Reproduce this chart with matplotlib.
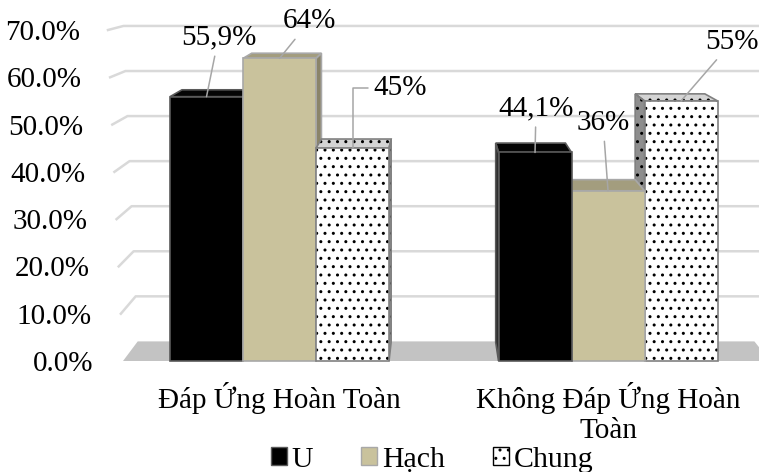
import matplotlib.pyplot as plt
from matplotlib.patches import Polygon, Patch

plt.rcParams['font.family'] = ['Liberation Serif', 'DejaVu Serif']

categories = ['Đáp Ứng Hoàn Toàn', 'Không Đáp Ứng Hoàn\nToàn']
series = ['U', 'Hạch', 'Chung']
u_vals = [55.9, 44.1]
hach_vals = [64, 36]
chung_vals = [45, 55]
y_ticks = [0, 10, 20, 30, 40, 50, 60, 70]

# label offsets in pixels from the top of each bar (per series, per group)
label_offsets = {
    'U': [(12, 59), (1, 44)],
    'Hạch': [(30, 37), (-5, 68)],
    'Chung': [(48, 60), (51, 59)],
}

styles = {
    'U': dict(front='#000000', top='#050505', side='#1c1c1c', edge='#5a5a5a', hatch=None),
    'Hạch': dict(front='#c9c29c', top='#a39d7e', side='#8a8469', edge='#a8a8a8', hatch=None),
    'Chung': dict(front='#ffffff', top='#d4d4d4', side='#8e8e8e', edge='#808080', hatch='..'),
}

values = {'U': u_vals, 'Hạch': hach_vals, 'Chung': chung_vals}

group_x = [0, 4.5]
offsets = [-1, 0, 1]
width = 1.0
fs = 21

# simple perspective: vanishing point and depth factors
vp_x, vp_y = 2.144, 88.2
s_bar, s_wall = 0.955, 0.953


def proj(x, y, s):
    return (vp_x + s * (x - vp_x), vp_y + s * (y - vp_y))


fig = plt.figure(figsize=(7.59, 4.72), dpi=100)
ax = fig.add_axes([123 / 759, 111 / 472, 636 / 759, 331 / 472])
ax.set_xlim(-2.144, 6.568)
ax.set_ylim(0, 70)
ax.patch.set_visible(False)
for sp in ax.spines.values():
    sp.set_visible(False)

# floor
fl, fr = -2.144, 6.72
floor = Polygon([(fl, 0), (fr, 0), proj(fr, 0, s_wall), proj(fl, 0, s_wall)],
                closed=True, facecolor='#c3c3c3', edgecolor='none', zorder=1, clip_on=False)
ax.add_patch(floor)

# gridlines: left wall + back wall
lean = 15 / 73 / 70
for v in y_ticks[1:]:
    xf = fl - lean * v
    bx, by = proj(xf, v, s_wall)
    ax.plot([xf, bx, 6.65], [v, by, by], color='#d9d9d9', lw=1.8,
            solid_joinstyle='round', zorder=2, clip_on=False)

# bars in drawing order
bars = []
for si, name in enumerate(series):
    for gi, gx in enumerate(group_x):
        xc = gx + offsets[si]
        bars.append((xc, name, gi))
left = sorted([b for b in bars if b[0] < vp_x], key=lambda b: b[0])
right = sorted([b for b in bars if b[0] >= vp_x], key=lambda b: -b[0])

z = 3
for xc, name, gi in left + right:
    st = styles[name]
    v = values[name][gi]
    x0, x1 = xc - width / 2, xc + width / 2
    xs = x1 if xc < vp_x else x0
    side = [(xs, 0), (xs, v), proj(xs, v, s_bar), proj(xs, 0, s_bar)]
    top = [(x0, v), (x1, v), proj(x1, v, s_bar), proj(x0, v, s_bar)]
    hc = '#000000' if st['hatch'] else st['edge']
    for pts, fc in ((side, st['side']), (top, st['top'])):
        ax.add_patch(Polygon(pts, closed=True, facecolor=fc, edgecolor=hc, lw=0,
                             hatch=st['hatch'], zorder=z, clip_on=False))
        ax.add_patch(Polygon(pts, closed=True, facecolor='none', edgecolor=st['edge'],
                             lw=1.2, zorder=z + 0.1, clip_on=False))
    ax.bar(xc, v, width=width, color=st['front'], edgecolor=hc, lw=0,
           hatch=st['hatch'], zorder=z + 0.2, clip_on=False)
    ax.bar(xc, v, width=width, color='none', edgecolor=st['edge'], lw=1.2,
           zorder=z + 0.3, clip_on=False)
    z += 1

# data labels
for si, name in enumerate(series):
    for gi, gx in enumerate(group_x):
        xc = gx + offsets[si]
        v = values[name][gi]
        txt = f'{v:g}%'.replace('.', ',')
        dx, dy = label_offsets[name][gi]
        conn = 'angle,angleA=0,angleB=90,rad=0' if (name == 'Chung' and gi == 0) else 'arc3'
        ax.annotate(txt, xy=(xc, v), xytext=(dx, dy), textcoords='offset pixels',
                    ha='center', va='center', fontsize=fs, zorder=30,
                    arrowprops=dict(arrowstyle='-', color='#a6a6a6', lw=1.1,
                                    shrinkA=2, shrinkB=0, connectionstyle=conn))

# axis labels
ax.set_yticks(y_ticks)
ax.set_yticklabels([f'{t:.1f}%' for t in y_ticks], fontsize=fs)
ax.tick_params(axis='y', length=0, pad=0)
for t, tick in zip(y_ticks, ax.yaxis.get_major_ticks()):
    tick.label1.set_x((93 - 13 * t / 70 - 123) / 636)

ax.set_xticks(group_x)
ax.set_xticklabels(categories, fontsize=fs, linespacing=1.2)
ax.tick_params(axis='x', length=0, pad=15)

handles = [Patch(facecolor=styles[n]['front'], edgecolor=styles[n]['edge'] if n != 'Chung' else '#000000',
                 hatch=styles[n]['hatch'], lw=1) for n in series]
fig.legend(handles, series, loc='center', bbox_to_anchor=(432 / 759, 12 / 472), ncol=3,
           frameon=False, fontsize=fs + 0.5, handlelength=0.55, handleheight=0.55,
           handletextpad=0.15, columnspacing=1.6, borderpad=0)

fig.savefig('out.png', dpi=100)
